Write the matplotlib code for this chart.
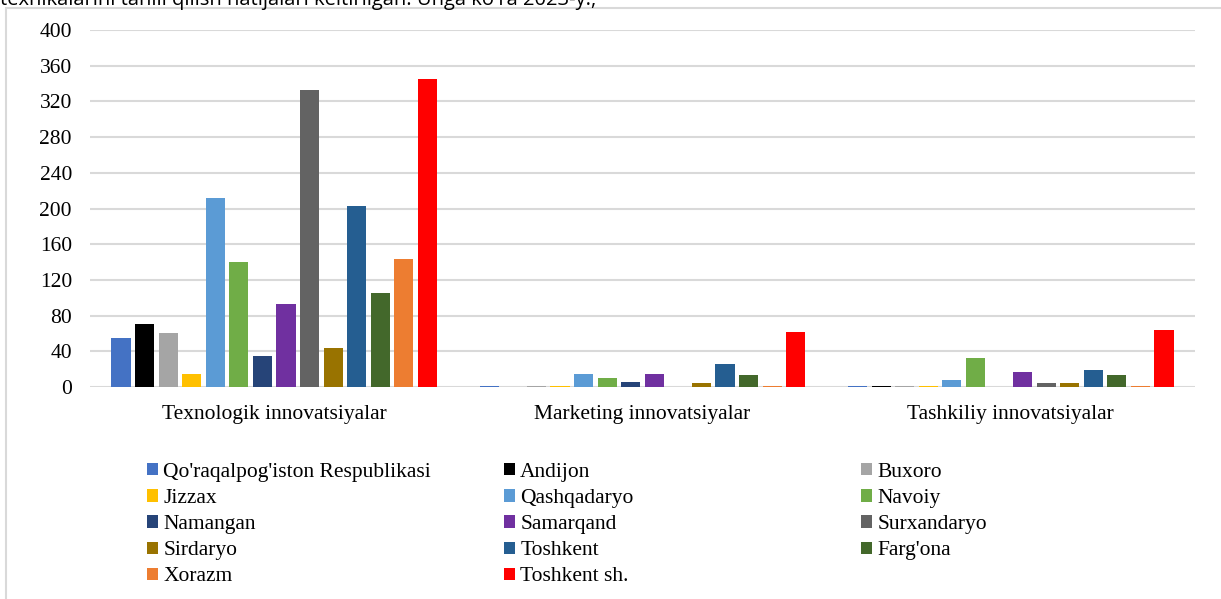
import numpy as np
import matplotlib
matplotlib.use('Agg')
import matplotlib.pyplot as plt
from matplotlib.patches import Rectangle, Patch

categories = ['Texnologik innovatsiyalar', 'Marketing innovatsiyalar', 'Tashkiliy innovatsiyalar']

regions = ["Qo'raqalpog'iston Respublikasi", 'Andijon', 'Buxoro', 'Jizzax', 'Qashqadaryo',
           'Navoiy', 'Namangan', 'Samarqand', 'Surxandaryo', 'Sirdaryo', 'Toshkent',
           "Farg'ona", 'Xorazm', 'Toshkent sh.']

colors = ['#4472C4', '#000000', '#A5A5A5', '#FFC000', '#5B9BD5', '#70AD47', '#264478',
          '#7030A0', '#636363', '#997300', '#255E91', '#43682B', '#ED7D31', '#FF0000']

# values per region: [texnologik, marketing, tashkiliy]
texnologik = [55, 71, 60, 15, 212, 140, 35, 93, 333, 44, 203, 105, 143, 345]
marketing = [1, 0, 1, 1, 15, 10, 6, 15, 0, 4, 26, 13, 1, 62]
tashkiliy = [1, 1, 1, 1, 8, 33, 0, 17, 4, 4, 19, 13, 1, 64]

yticks = [0, 40, 80, 120, 160, 200, 240, 280, 320, 360, 400]

serif = 'Liberation Serif'
grid_c = '#D9D9D9'
fs = 15.5

fig = plt.figure(figsize=(12.21, 5.99), dpi=100)

# outer chart frame
fig.patches.append(Rectangle((5.5 / 1221, -0.05), 1.1, 1 - 8 / 599 + 0.05,
                             transform=fig.transFigure, fill=False,
                             edgecolor=grid_c, lw=1.5))

# document line above the chart, cut by the page edge
fig.text(0.0, 1.0, "texnikalarini tahlil qilish natijalari keltirilgan. Unga ko'ra 2023-y.,",
         family='Open Sans', fontsize=14.5, ha='left', va='center', color='black')

ax = fig.add_axes([90 / 1221, 1 - 387 / 599, 1105 / 1221, 357 / 599])

data = np.array([texnologik, marketing, tashkiliy]).T  # (14, 3)
x = np.arange(len(categories))
n = len(regions)
step = 0.064
width = 0.052
handles = []
for i in range(n):
    off = (i - (n - 1) / 2) * step
    ax.bar(x + off, data[i], width, color=colors[i], zorder=3)
    handles.append(Patch(facecolor=colors[i], edgecolor='none'))

ax.set_xlim(-0.5, 2.5)
ax.set_ylim(0, 400)
ax.set_yticks(yticks)
ax.set_yticklabels([str(v) for v in yticks], family=serif, fontsize=fs)
ax.set_xticks(x)
ax.set_xticklabels(categories, family=serif, fontsize=fs)
ax.tick_params(axis='both', length=0)
ax.tick_params(axis='y', pad=13)
ax.tick_params(axis='x', pad=13)
ax.yaxis.grid(True, color=grid_c, lw=1.5, zorder=0)
ax.set_axisbelow(True)
for s in ax.spines.values():
    s.set_visible(False)

# legend: three separate columns, filled row by row like Excel
col_x = [147 / 1221, 504 / 1221, 861 / 1221]
for c in range(3):
    idx = list(range(c, n, 3))
    fig.legend([handles[k] for k in idx], [regions[k] for k in idx],
               loc='upper left', bbox_to_anchor=(col_x[c], 1 - 463 / 599),
               frameon=False, prop={'family': serif, 'size': fs},
               handlelength=0.5, handleheight=0.5, handletextpad=0.25,
               labelspacing=0.33, borderpad=0, borderaxespad=0)

fig.savefig('out.png', dpi=100)
